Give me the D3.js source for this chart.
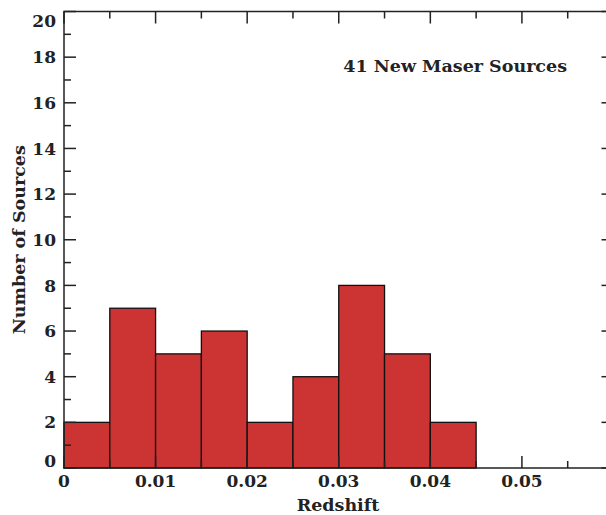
<!DOCTYPE html>
<html><head><meta charset="utf-8">
<script src="https://cdn.jsdelivr.net/npm/d3@7"></script>
<style>body{margin:0;background:#fff}svg{display:block}text{font-family:"DejaVu Serif",serif;font-weight:bold;fill:#222}</style>
</head><body><div id="c"></div>
<script>
const binStarts = [0, 0.005, 0.010, 0.015, 0.020, 0.025, 0.030, 0.035, 0.040, 0.045, 0.050];
const counts = [2, 7, 5, 6, 2, 4, 8, 5, 2, 0, 0];
const binWidth = 0.005;
const xTicks = [0, 0.01, 0.02, 0.03, 0.04, 0.05];
const xTickLabels = ["0", "0.01", "0.02", "0.03", "0.04", "0.05"];
const yTicks = [0, 2, 4, 6, 8, 10, 12, 14, 16, 18, 20];
const title = "41 New Maser Sources";
const xLabel = "Redshift";
const yLabel = "Number of Sources";

const W = 606, H = 515;
const L = 64, R = 613.5, T = 11.5, B = 468;
const svg = d3.select("#c").append("svg").attr("width", W).attr("height", H);
const x = d3.scaleLinear().domain([0, 0.06]).range([L, R]);
const y = d3.scaleLinear().domain([0, 20]).range([B, T]);

// bars
svg.append("g").selectAll("rect").data(binStarts.map((s, i) => ({s, c: counts[i]})).filter(d => d.c > 0))
  .join("rect")
  .attr("x", d => x(d.s)).attr("width", d => x(d.s + binWidth) - x(d.s))
  .attr("y", d => y(d.c)).attr("height", d => y(0) - y(d.c))
  .attr("fill", "#cc3333").attr("stroke", "#111").attr("stroke-width", 1.3);

// frame
const g = svg.append("g").attr("stroke", "#222").attr("stroke-width", 1.5).attr("fill", "none");
g.append("rect").attr("x", L).attr("y", T).attr("width", R - L).attr("height", B - T);

const xMinor = d3.range(0.005, 0.06, 0.01);
xTicks.forEach(v => {
  g.append("line").attr("x1", x(v)).attr("x2", x(v)).attr("y1", B).attr("y2", B - 12);
  g.append("line").attr("x1", x(v)).attr("x2", x(v)).attr("y1", T).attr("y2", T + 12);
});
xMinor.forEach(v => {
  g.append("line").attr("x1", x(v)).attr("x2", x(v)).attr("y1", B).attr("y2", B - 7);
  g.append("line").attr("x1", x(v)).attr("x2", x(v)).attr("y1", T).attr("y2", T + 7);
});
yTicks.forEach(v => {
  g.append("line").attr("x1", L).attr("x2", L + 12).attr("y1", y(v)).attr("y2", y(v));
  g.append("line").attr("x1", R).attr("x2", R - 12).attr("y1", y(v)).attr("y2", y(v));
});
d3.range(1, 20, 2).forEach(v => {
  g.append("line").attr("x1", L).attr("x2", L + 7).attr("y1", y(v)).attr("y2", y(v));
  g.append("line").attr("x1", R).attr("x2", R - 7).attr("y1", y(v)).attr("y2", y(v));
});

// tick labels
svg.append("g").selectAll("text").data(xTicks).join("text")
  .attr("x", d => x(d)).attr("y", 475).attr("dy", "0.73em")
  .attr("text-anchor", "middle").attr("font-size", 17)
  .text((d, i) => xTickLabels[i]);
svg.append("g").selectAll("text").data(yTicks).join("text")
  .attr("x", 56).attr("y", d => d === 0 ? y(d) - 7 : d === 20 ? y(d) + 9 : y(d))
  .attr("dy", "0.36em").attr("text-anchor", "end").attr("font-size", 17)
  .text(d => d);

svg.append("text").attr("x", 338).attr("y", 511).attr("text-anchor", "middle").attr("font-size", 17.5).text(xLabel);
svg.append("text").attr("transform", `translate(25,${(T + B) / 2}) rotate(-90)`).attr("text-anchor", "middle").attr("font-size", 17.5).text(yLabel);
svg.append("text").attr("x", 567).attr("y", 72).attr("text-anchor", "end").attr("font-size", 17.5).text(title);
</script></body></html>
